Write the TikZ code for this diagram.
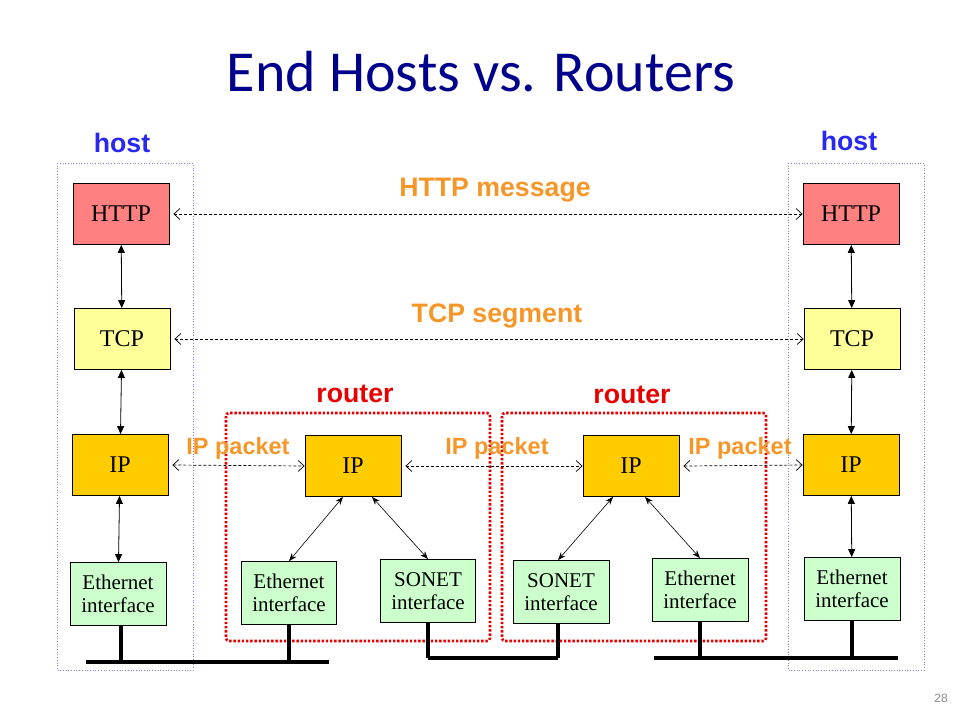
\documentclass[tikz,border=0pt]{standalone}
\usepackage{fontspec}
\setmainfont{Liberation Serif}
\newfontfamily\titlefont{Carlito}
\newfontfamily\labelfont{Liberation Sans}
\usetikzlibrary{arrows.meta, positioning}

\definecolor{titleblue}{RGB}{0,0,140}
\definecolor{hostblue}{RGB}{40,40,240}
\definecolor{msgorange}{RGB}{245,150,40}
\definecolor{routerred}{RGB}{230,0,0}
\definecolor{httpfill}{RGB}{255,128,128}
\definecolor{tcpfill}{RGB}{255,255,153}
\definecolor{ipfill}{RGB}{255,204,0}
\definecolor{ethfill}{RGB}{204,255,204}
\definecolor{hostline}{RGB}{130,130,230}

\tikzset{
  layer/.style={draw, line width=0.8pt, inner sep=0pt, minimum width=96pt, minimum height=61pt,
    font=\fontsize{24}{26}\selectfont},
  iface/.style={layer, align=center, minimum height=63pt, font=\fontsize{21}{23}\selectfont},
  updown/.style={line width=0.8pt, {Triangle[length=8pt,width=7pt]}-{Triangle[length=8pt,width=7pt]}},
  slant/.style={line width=0.6pt, {Stealth[length=8pt,width=6pt]}-{Stealth[length=8pt,width=6pt]}},
  peer/.style={dashed, line width=0.7pt, dash pattern=on 3pt off 2pt,
    {Straight Barb[length=6pt,width=11pt]}-{Straight Barb[length=6pt,width=11pt]}},
  msg/.style={text=msgorange, font=\labelfont\bfseries\fontsize{26.7}{28}\selectfont},
  pkt/.style={msg, font=\labelfont\bfseries\fontsize{23.5}{25}\selectfont},
  bus/.style={line width=3.5pt},
}

\begin{document}
\begin{tikzpicture}[x=1pt, y=-1pt]
  \useasboundingbox (0,0) rectangle (960,720);

  % Title
  \node[text=titleblue, font=\titlefont\fontsize{58}{62}\selectfont] (title) at (481,72) {End Hosts vs. Routers};

  % Host and router frames
  \draw[hostline, dotted, line width=0.7pt] (57,163) rectangle (193,670);
  \draw[hostline, dotted, line width=0.7pt] (788,163) rectangle (924,670);
  \draw[routerred, line width=2.6pt, dash pattern=on 2.4pt off 1.8pt, rounded corners=3pt] (226,413) rectangle (490,641);
  \draw[routerred, line width=2.6pt, dash pattern=on 2.4pt off 1.8pt, rounded corners=3pt] (502,413) rectangle (766,641);

  \node[text=hostblue, font=\labelfont\bfseries\fontsize{26.7}{28}\selectfont] (hostL) at (122,143) {host};
  \node[text=hostblue, font=\labelfont\bfseries\fontsize{26.7}{28}\selectfont] (hostR) at (849,141) {host};
  \node[text=routerred, font=\labelfont\bfseries\fontsize{26.7}{28}\selectfont] (routerA) at (355,394) {router};
  \node[text=routerred, font=\labelfont\bfseries\fontsize{26.7}{28}\selectfont] (routerB) at (632,395) {router};

  % Left host stack
  \node[layer, fill=httpfill] (httpL) at (121,214) {HTTP};
  \node[layer, fill=tcpfill] (tcpL) at (122,339) {TCP};
  \node[layer, fill=ipfill] (ipL) at (120,465) {IP};
  \node[iface, fill=ethfill] (ethL) at (118,594) {Ethernet\\interface};

  % Right host stack
  \node[layer, fill=httpfill] (httpR) at (851,214) {HTTP};
  \node[layer, fill=tcpfill] (tcpR) at (852,339) {TCP};
  \node[layer, fill=ipfill] (ipR) at (851,465) {IP};
  \node[iface, fill=ethfill] (ethR) at (852,589) {Ethernet\\interface};

  % Routers
  \node[layer, fill=ipfill] (ipA) at (353,466) {IP};
  \node[iface, fill=ethfill, minimum width=95pt] (ethA) at (289,593) {Ethernet\\interface};
  \node[iface, fill=ethfill, minimum width=95pt] (sonA) at (428,591) {SONET\\interface};
  \node[layer, fill=ipfill] (ipB) at (631,466) {IP};
  \node[iface, fill=ethfill] (sonB) at (561,592) {SONET\\interface};
  \node[iface, fill=ethfill] (ethB) at (700,590) {Ethernet\\interface};

  % Layer arrows
  \draw[updown] (httpL) -- (tcpL);
  \draw[updown] (tcpL) -- (ipL);
  \draw[updown] (ipL) -- (ethL);
  \draw[updown] (httpR) -- (tcpR);
  \draw[updown] (tcpR) -- (ipR);
  \draw[updown] (ipR) -- (ethR);
  \draw[slant] ([xshift=-10pt]ipA.south) -- (ethA.north);
  \draw[slant] ([xshift=19pt]ipA.south) -- (sonA.north);
  \draw[slant] ([xshift=-18pt]ipB.south) -- ([xshift=-3pt]sonB.north);
  \draw[slant] ([xshift=14pt]ipB.south) -- (ethB.north);

  % Peer messages
  \draw[peer] ([xshift=4pt]httpL.east) -- (httpR.west);
  \draw[peer] ([xshift=4pt]tcpL.east) -- (tcpR.west);
  \draw[peer] ([xshift=4pt]ipL.east) -- (ipA.west);
  \draw[peer] ([xshift=4pt]ipA.east) -- (ipB.west);
  \draw[peer] ([xshift=4pt]ipB.east) -- (ipR.west);
  \node[msg] (httpmsg) at (495,190) {HTTP message};
  \node[msg] (tcpmsg) at (497,316) {TCP segment};
  \node[pkt] (ipmsgA) at (238,448) {IP packet};
  \node[pkt] (ipmsgB) at (497,448) {IP packet};
  \node[pkt] (ipmsgC) at (740,448) {IP packet};

  % Links
  \coordinate (linkL) at (86,662);
  \coordinate (linkM) at (428,658);
  \coordinate (linkR) at (654,658);
  \draw[bus] (linkL) -- (329,662);
  \draw[bus] (linkM) -- (558,658);
  \draw[bus] (linkR) -- (898,658);
  \draw[bus] ([xshift=3pt]ethL.south) -- ([xshift=3pt]ethL.south |- linkL);
  \draw[bus] (ethA.south) -- (ethA.south |- linkL);
  \draw[bus] (sonA.south) -- (sonA.south |- linkM);
  \draw[bus] ([xshift=-3pt]sonB.south) -- ([xshift=-3pt]sonB.south |- linkM);
  \draw[bus] (ethB.south) -- (ethB.south |- linkR);
  \draw[bus] (ethR.south) -- (ethR.south |- linkR);

  % Slide number
  \node[text=black!45, font=\labelfont\fontsize{12}{14}\selectfont] (pageno) at (941,698) {28};
\end{tikzpicture}
\end{document}
